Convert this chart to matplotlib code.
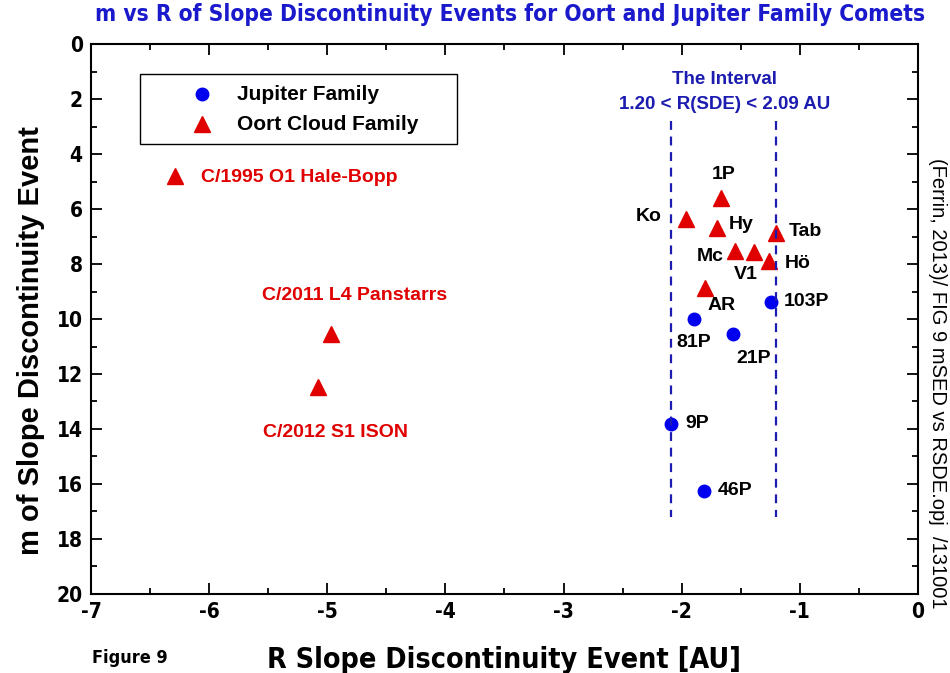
import matplotlib
matplotlib.use("Agg")
import matplotlib.pyplot as plt
from matplotlib.ticker import MultipleLocator
from matplotlib.patches import Rectangle

plt.rcParams['font.family'] = ['Liberation Sans', 'DejaVu Sans']
plt.rcParams['axes.unicode_minus'] = False
NARROW = dict(family=['DejaVu Sans'], stretch='condensed')

# Jupiter family comets (blue circles)
jf_names = ["103P", "81P", "21P", "9P", "46P"]
jf_r = [-1.24, -1.90, -1.57, -2.09, -1.81]
jf_m = [9.37, 10.0, 10.56, 13.81, 16.25]

# Oort cloud comets (red triangles), interval group
oc_names = ["1P", "Ko", "Hy", "Tab", "Mc", "V1", "Hö", "AR"]
oc_r = [-1.67, -1.96, -1.70, -1.20, -1.55, -1.39, -1.26, -1.80]
oc_m = [5.59, 6.38, 6.70, 6.88, 7.53, 7.56, 7.89, 8.89]

# Oort cloud outliers
big_names = ["C/1995 O1 Hale-Bopp", "C/2011 L4 Panstarrs", "C/2012 S1 ISON"]
big_r = [-6.29, -4.97, -5.08]
big_m = [4.79, 10.55, 12.46]

# interval limits
r_lo, r_hi = -2.09, -1.20

red = "#e00000"
blue = "#0000ee"
navy = "#1c1cb0"

fig = plt.figure(figsize=(9.5, 6.73), dpi=100)
ax = fig.add_axes([0.0958, 0.1174, 0.8705, 0.8172])

ax.plot(jf_r, jf_m, "o", color=blue, ms=9)
ax.plot(oc_r + big_r, oc_m + big_m, "^", color=red, ms=11.5)

for x in (r_lo, r_hi):
    ax.plot([x, x], [2.8, 17.2], "--", color=navy, lw=1.6, dashes=(4, 3))

# label offsets in points
jf_off = {"103P": (9, 0, "left"), "81P": (0, -17, "center"), "21P": (15, -17, "center"),
          "9P": (10, 0, "left"), "46P": (9.5, 0, "left")}
oc_off = {"1P": (2, 17, "center"), "Ko": (-27, 2, "center"), "Hy": (8, 3, "left"),
          "Tab": (9, 1, "left"), "Mc": (-18, -3.6, "center"), "V1": (-6, -16, "center"),
          "Hö": (11, -1.5, "left"), "AR": (11.5, -12.5, "center")}

for n, x, y in zip(jf_names, jf_r, jf_m):
    dx, dy, ha = jf_off[n]
    ax.annotate(n, (x, y), xytext=(dx, dy), textcoords="offset points",
                ha=ha, va="center", fontsize=14, fontweight="bold")
for n, x, y in zip(oc_names, oc_r, oc_m):
    dx, dy, ha = oc_off[n]
    ax.annotate(n, (x, y), xytext=(dx, dy), textcoords="offset points",
                ha=ha, va="center", fontsize=14, fontweight="bold")

big_off = [(19, -1, "left"), (17, 28, "center"), (13, -33, "center")]
for n, x, y, (dx, dy, ha) in zip(big_names, big_r, big_m, big_off):
    ax.annotate(n, (x, y), xytext=(dx, dy), textcoords="offset points",
                ha=ha, va="center", fontsize=14, fontweight="bold", color=red)

ax.text(-1.635, 1.3, "The Interval", ha="center", va="center",
        fontsize=13.5, fontweight="bold", color=navy)
ax.text(-1.635, 2.2, "1.20 < R(SDE) < 2.09 AU", ha="center", va="center",
        fontsize=13.5, fontweight="bold", color=navy)

# legend box
ax.add_patch(Rectangle((0.0593, 0.8182), 0.3833, 0.1273, transform=ax.transAxes,
                       fill=False, edgecolor="black", lw=1.0))
ax.plot([0.1339], [0.9091], "o", color=blue, ms=9, transform=ax.transAxes)
ax.plot([0.1339], [0.854], "^", color=red, ms=11.5, transform=ax.transAxes)
ax.text(0.1765, 0.9091, "Jupiter Family", transform=ax.transAxes, ha="left", va="center",
        fontsize=15, fontweight="bold")
ax.text(0.1765, 0.854, "Oort Cloud Family", transform=ax.transAxes, ha="left", va="center",
        fontsize=15, fontweight="bold")

ax.set_xlim(-7, 0)
ax.set_ylim(20, 0)
ax.xaxis.set_major_locator(MultipleLocator(1))
ax.xaxis.set_minor_locator(MultipleLocator(0.5))
ax.yaxis.set_major_locator(MultipleLocator(2))
ax.yaxis.set_minor_locator(MultipleLocator(1))
ax.tick_params(which="both", direction="in", top=True, right=True, width=1.3)
ax.tick_params(which="major", length=8, labelsize=15, pad=6)
ax.tick_params(which="minor", length=4)
for lab in ax.get_xticklabels() + ax.get_yticklabels():
    lab.set_fontweight("bold")
    lab.set_family(NARROW['family'])
    lab.set_stretch('condensed')
for s in ax.spines.values():
    s.set_linewidth(1.5)

ax.set_xlabel("R Slope Discontinuity Event [AU]", fontsize=20.5, fontweight="bold",
              labelpad=17, **NARROW)
ax.set_ylabel("m of Slope Discontinuity Event", fontsize=21, fontweight="bold")
ax.yaxis.set_label_coords(-0.056, 0.46)
fig.text(0.537, 0.978, "m vs R of Slope Discontinuity Events for Oort and Jupiter Family Comets",
         ha="center", va="center", fontsize=16.3, fontweight="bold", color="#1a1acc", **NARROW)
fig.text(0.097, 0.022, "Figure 9", ha="left", va="center", fontsize=13, fontweight="bold",
         **NARROW)
fig.text(0.987, 0.431, "(Ferrin, 2013)/ FIG 9 mSED vs RSDE.opj  /131001", rotation=-90,
         ha="center", va="center", fontsize=14.5)

fig.savefig("out.png", dpi=100)
